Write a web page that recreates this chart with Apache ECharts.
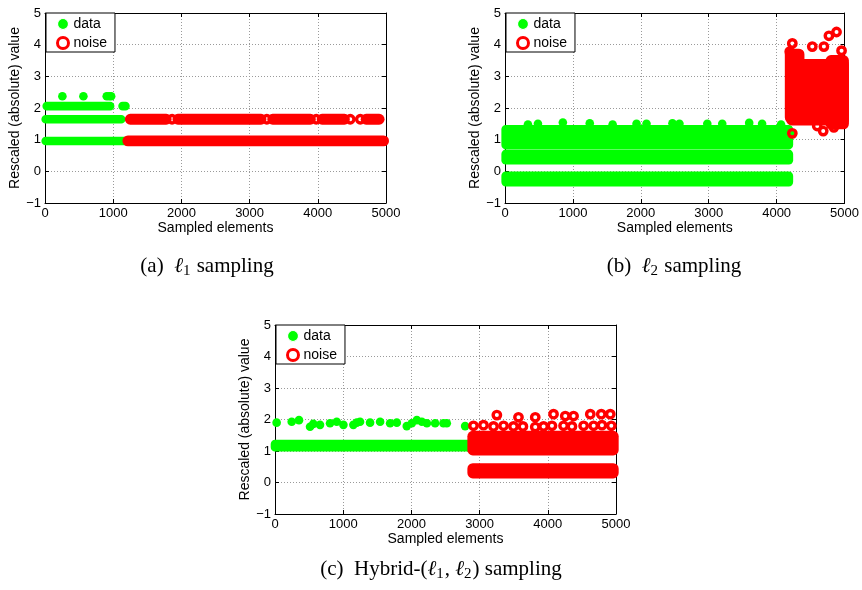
<!DOCTYPE html>
<html>
<head>
<meta charset="utf-8">
<script src="https://cdn.jsdelivr.net/npm/echarts@6/dist/echarts.min.js"></script>
<style>
  html, body { margin: 0; padding: 0; background: #fff; }
  #chart { width: 862px; height: 590px; }
</style>
</head>
<body>
<div id="chart"></div>
<script>
// ---------- tick labels ----------
const xTickLabels = ['0', '1000', '2000', '3000', '4000', '5000'];
const yTickLabels = ['\u22121', '0', '1', '2', '3', '4', '5'];

// ---------- legend / captions ----------
const seriesNames = ['data', 'noise'];
const captions = [
  '{t|(a)  }{l|\u2113}{s|1}{t| sampling}',
  '{t|(b)  }{l|\u2113}{s|2}{t| sampling}',
  '{t|(c)  Hybrid-(}{l|\u2113}{s|1}{t|, }{l|\u2113}{s|2}{t|) sampling}'
];

// Dense runs of markers: [xStart, xEnd, yCenter, ySpread]
// ---------- panel (a): l1 sampling ----------
const aDataBands = [
  [10, 1180, 0.96, 0],
  [10, 1118, 1.645, 0],
  [25, 955, 2.06, 0],
  [1137, 1180, 2.06, 0]
];
const aDataPoints = [[255, 2.37], [563, 2.37], [905, 2.37], [940, 2.37], [970, 2.37]];
const aNoiseBands = [
  [1215, 4965, 0.96, 0],
  [1250, 1778, 1.645, 0],
  [1948, 3168, 1.645, 0],
  [3338, 3892, 1.645, 0],
  [4062, 4391, 1.645, 0],
  [4708, 4900, 1.645, 0]
];
const aNoisePoints = [[1863, 1.645], [3253, 1.645], [3977, 1.645], [4476, 1.645], [4623, 1.645]];

// ---------- panel (b): l2 sampling ----------
const bDataBands = [
  [10, 4180, -0.24, 0.1],
  [10, 4180, 0.45, 0.1],
  [10, 4180, 1.08, 0.25]
];
const bDataPoints = [
  [338, 1.48], [485, 1.5], [852, 1.54], [1248, 1.52], [1585, 1.48], [1937, 1.5],
  [2084, 1.5], [2466, 1.52], [2569, 1.5], [2979, 1.5], [3199, 1.5], [3596, 1.53],
  [3786, 1.5], [4065, 1.48], [4231, 1.2]
];
const bNoiseBands = [
  [4220, 4985, 2.5, 0.88],
  [4200, 4330, 2.7, 1.0],
  [4800, 4985, 2.5, 1.0]
];
const bNoisePoints = [
  [4231, 4.04], [4193, 3.78], [4525, 3.94], [4696, 3.94], [4770, 4.28], [4882, 4.40],
  [4956, 3.81], [4231, 1.2], [4686, 1.27], [4843, 1.39], [4598, 1.43]
];

// ---------- panel (c): hybrid sampling ----------
const cDataBands = [
  [0, 2840, 1.17, 0.05]
];
const cDataPoints = [
  [24, 1.90], [245, 1.93], [352, 1.98], [514, 1.77], [562, 1.86], [660, 1.83], [807, 1.88],
  [905, 1.93], [1003, 1.83], [1149, 1.83], [1199, 1.90], [1247, 1.93], [1394, 1.90],
  [1541, 1.93], [1688, 1.88], [1786, 1.90], [1932, 1.79], [2006, 1.88], [2080, 1.98],
  [2153, 1.93], [2227, 1.88], [2348, 1.88], [2470, 1.88], [2519, 1.88], [2788, 1.79]
];
const cNoiseBands = [
  [2900, 4960, 0.37, 0.07],
  [2900, 4960, 1.25, 0.22]
];
const cNoisePoints = [
  [2910, 1.8], [3057, 1.82], [3204, 1.78], [3351, 1.8], [3497, 1.78], [3635, 1.78],
  [3816, 1.76], [3938, 1.78], [4061, 1.8], [4231, 1.8], [4354, 1.78], [4525, 1.8],
  [4672, 1.8], [4794, 1.82], [4931, 1.8],
  [3253, 2.14], [3570, 2.07], [3816, 2.07], [4084, 2.17], [4256, 2.11], [4378, 2.11],
  [4623, 2.17], [4784, 2.17], [4916, 2.17]
];

// ---------- styling ----------
const GREEN = '#00ff00';
const RED = '#ff0000';
const SANS = '"Liberation Sans", Arial, Helvetica, sans-serif';
const SERIF = '"Liberation Serif", "Times New Roman", serif';
const GREEN_R = 4.3;
const RED_R = 5.4;

const panels = [
  { grid: { left: 45, top: 13, width: 341, height: 190 }, legend: { left: 46, top: 13 },
    dBands: aDataBands, dPts: aDataPoints, nBands: aNoiseBands, nPts: aNoisePoints,
    caption: { x: 207, y: 266 } },
  { grid: { left: 505, top: 13, width: 341, height: 190 }, legend: { left: 506, top: 13 },
    dBands: bDataBands, dPts: bDataPoints, nBands: bNoiseBands, nPts: bNoisePoints,
    caption: { x: 674, y: 266 } },
  { grid: { left: 275, top: 325, width: 341, height: 189 }, legend: { left: 276, top: 325 },
    dBands: cDataBands, dPts: cDataPoints, nBands: cNoiseBands, nPts: cNoisePoints,
    caption: { x: 441, y: 569 } }
];

function bandRender(r, color) {
  return function (params, api) {
    const x0 = api.value(0), x1 = api.value(1), yc = api.value(2), s = api.value(3);
    const p0 = api.coord([x0, yc + s]);
    const p1 = api.coord([x1, yc - s]);
    return {
      type: 'rect',
      shape: { x: p0[0] - r, y: p0[1] - r, width: p1[0] - p0[0] + 2 * r, height: p1[1] - p0[1] + 2 * r, r: r },
      style: { fill: color }
    };
  };
}

const grids = [], xAxes = [], yAxes = [], series = [], legends = [], graphics = [];
const tickStyle = { inside: true, length: 4, lineStyle: { color: '#000', width: 1 } };
const lineStyle = { show: true, onZero: false, lineStyle: { color: '#000', width: 1 } };
const splitStyle = { show: true, lineStyle: { color: '#9a9a9a', width: 1, type: [1, 2] } };

panels.forEach((p, i) => {
  grids.push(Object.assign({ containLabel: false }, p.grid));
  const xi = xAxes.length, yi = yAxes.length;
  xAxes.push({
    type: 'value', gridIndex: i, min: 0, max: 5000, interval: 1000, position: 'bottom',
    axisLine: lineStyle, axisTick: tickStyle, splitLine: splitStyle,
    axisLabel: { color: '#000', fontSize: 13, fontFamily: SANS, margin: 4,
      formatter: v => xTickLabels[Math.round(v / 1000)] },
    name: 'Sampled elements', nameLocation: 'middle', nameGap: 18,
    nameTextStyle: { color: '#000', fontSize: 14, fontFamily: SANS }
  });
  xAxes.push({
    type: 'value', gridIndex: i, min: 0, max: 5000, interval: 1000, position: 'top',
    axisLine: lineStyle, axisTick: tickStyle, splitLine: { show: false }, axisLabel: { show: false }
  });
  yAxes.push({
    type: 'value', gridIndex: i, min: -1, max: 5, interval: 1, position: 'left',
    axisLine: lineStyle, axisTick: tickStyle, splitLine: splitStyle,
    axisLabel: { color: '#000', fontSize: 13, fontFamily: SANS, margin: 4,
      formatter: v => yTickLabels[Math.round(v + 1)] },
    name: 'Rescaled (absolute) value', nameLocation: 'middle', nameGap: 22,
    nameTextStyle: { color: '#000', fontSize: 14, fontFamily: SANS }
  });
  yAxes.push({
    type: 'value', gridIndex: i, min: -1, max: 5, interval: 1, position: 'right',
    axisLine: lineStyle, axisTick: tickStyle, splitLine: { show: false }, axisLabel: { show: false }
  });

  series.push({
    type: 'custom', name: 'data', xAxisIndex: xi, yAxisIndex: yi, z: 2,
    renderItem: bandRender(GREEN_R, GREEN), data: p.dBands, silent: true
  });
  series.push({
    type: 'scatter', name: 'data', xAxisIndex: xi, yAxisIndex: yi, z: 3,
    symbol: 'circle', symbolSize: 2 * GREEN_R, itemStyle: { color: GREEN, opacity: 1 },
    data: p.dPts, silent: true
  });
  series.push({
    type: 'custom', name: 'noise', xAxisIndex: xi, yAxisIndex: yi, z: 4,
    renderItem: bandRender(RED_R, RED), data: p.nBands, silent: true
  });
  series.push({
    type: 'scatter', name: 'noise', xAxisIndex: xi, yAxisIndex: yi, z: 5,
    symbol: 'circle', symbolSize: 7.4,
    itemStyle: { color: 'rgba(0,0,0,0)', borderColor: RED, borderWidth: 3.4, opacity: 1 },
    data: p.nPts, silent: true
  });

  legends.push({
    left: p.legend.left, top: p.legend.top, orient: 'vertical',
    backgroundColor: '#fff', borderColor: '#000', borderWidth: 1,
    padding: [4, 8, 2, 10], itemGap: 5, itemWidth: 11, itemHeight: 11,
    selectedMode: false, z: 10,
    textStyle: { color: '#000', fontSize: 14, fontFamily: SANS },
    data: [
      { name: seriesNames[0], icon: 'circle', itemStyle: { color: GREEN, borderColor: '#fff', borderWidth: 1.2 } },
      { name: seriesNames[1], icon: 'circle', itemStyle: { color: '#fff', borderColor: RED, borderWidth: 3 } }
    ]
  });

  graphics.push({
    type: 'text', x: p.caption.x, y: p.caption.y,
    style: {
      text: captions[i], fill: '#000', align: 'center', verticalAlign: 'middle',
      font: '21px ' + SERIF,
      rich: {
        t: { fontSize: 21, fontFamily: SERIF, fill: '#000' },
        l: { fontSize: 21, fontFamily: SERIF, fontStyle: 'italic', fill: '#000' },
        s: { fontSize: 15, fontFamily: SERIF, fill: '#000', padding: [11, 1, 0, 0] }
      }
    }
  });
});

const chart = echarts.init(document.getElementById('chart'), null, { renderer: 'canvas' });
chart.setOption({
  animation: false,
  backgroundColor: '#fff',
  grid: grids,
  xAxis: xAxes,
  yAxis: yAxes,
  legend: legends,
  series: series,
  graphic: graphics
});
</script>
</body>
</html>
